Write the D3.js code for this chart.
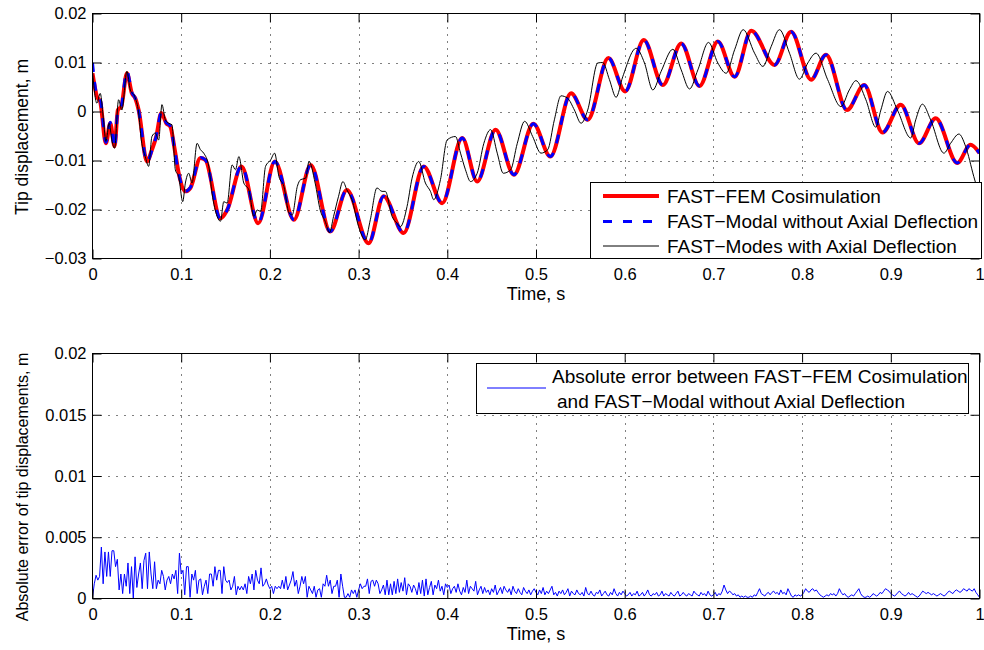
<!DOCTYPE html>
<html>
<head>
<meta charset="utf-8">
<script src="https://cdn.jsdelivr.net/npm/d3@7"></script>
<style>
  body { margin: 0; background: #fff; }
  svg text { font-family: "Liberation Sans", Arial, Helvetica, sans-serif; fill: #000; }
</style>
</head>
<body>
<svg id="fig" width="984" height="650"></svg>
<script>
// ---- Tip displacement time histories (time in s, displacement in m) ----
const femTime = [0, 0.0049, 0.0087, 0.0151, 0.0200, 0.0249, 0.0286, 0.0324, 0.0388, 0.0444,
  0.0482, 0.0520, 0.0614, 0.0670, 0.0719, 0.0776, 0.0832, 0.0878, 0.0927, 0.0972,
  0.1047, 0.1104, 0.1217, 0.1273, 0.1443, 0.1518, 0.1680, 0.1868, 0.2056, 0.2271,
  0.2460, 0.2680, 0.2868, 0.3113, 0.3282, 0.3508, 0.3734, 0.3942, 0.4168, 0.4337,
  0.4544, 0.4751, 0.4970, 0.5162, 0.5395, 0.5583, 0.5816, 0.6005, 0.6215, 0.6430,
  0.6637, 0.6843, 0.7050, 0.7239, 0.7427, 0.7689, 0.7876, 0.8101, 0.8270, 0.8506,
  0.8700, 0.8906, 0.9112, 0.9318, 0.9506, 0.9749, 0.9899, 1.0];
const femDisp = [0.0078, 0.0031, 0.0020, -0.0065, -0.0024, -0.0071, 0.0003, 0.0010, 0.0078, 0.0037,
  0.0027, 0.0003, -0.0102, -0.0078, -0.0051, -0.0003, -0.0024, -0.0031, -0.0078, -0.0126,
  -0.0163, -0.0156, -0.0095, -0.0099, -0.0218, -0.0201, -0.0112, -0.0228, -0.0102, -0.0221,
  -0.0109, -0.0245, -0.0160, -0.0269, -0.0173, -0.0248, -0.0112, -0.0187, -0.0054, -0.0143,
  -0.0037, -0.0129, -0.0025, -0.0092, 0.0037, -0.0017, 0.0109, 0.0041, 0.0146, 0.0054,
  0.0139, 0.0052, 0.0143, 0.0071, 0.0165, 0.0095, 0.0163, 0.0065, 0.0116, 0.0003,
  0.0054, -0.0043, 0.0014, -0.0065, -0.0014, -0.0105, -0.0068, -0.0085];

const modalTime = femTime.slice();
const modalDisp = [0.0099, 0.0033, 0.0025, -0.0063, -0.0022, -0.0074, 0.0002, 0.0011, 0.0082, 0.0039,
  0.0027, 0.0002, -0.0103, -0.0079, -0.0050, -0.0002, -0.0023, -0.0030, -0.0079, -0.0127,
  -0.0163, -0.0155, -0.0094, -0.0099, -0.0219, -0.0201, -0.0111, -0.0228, -0.0102, -0.0221,
  -0.0109, -0.0245, -0.0160, -0.0269, -0.0173, -0.0248, -0.0112, -0.0187, -0.0054, -0.0143,
  -0.0037, -0.0129, -0.0025, -0.0092, 0.0037, -0.0017, 0.0109, 0.0041, 0.0146, 0.0054,
  0.0139, 0.0052, 0.0143, 0.0071, 0.0165, 0.0095, 0.0163, 0.0065, 0.0116, 0.0003,
  0.0054, -0.0043, 0.0014, -0.0065, -0.0014, -0.0105, -0.0068, -0.0085];

const axialTime = [0, 0.0049, 0.0087, 0.0124, 0.0151, 0.0188, 0.0218, 0.0249, 0.0294, 0.0331,
  0.0388, 0.0426, 0.0475, 0.0520, 0.0550, 0.0595, 0.0633, 0.0670, 0.0708, 0.0746,
  0.0783, 0.0821, 0.0859, 0.0896, 0.0934, 0.0972, 0.1017, 0.1047, 0.1085, 0.1122,
  0.1179, 0.1217, 0.1254, 0.1311, 0.1348, 0.1405, 0.1443, 0.1480, 0.1518, 0.1574,
  0.1612, 0.1650, 0.1706, 0.1763, 0.1819, 0.1857, 0.1895, 0.1951, 0.2008, 0.2053,
  0.2102, 0.2158, 0.2215, 0.2252, 0.2309, 0.2347, 0.2403, 0.2441, 0.2510, 0.2567,
  0.2623, 0.2672, 0.2718, 0.2774, 0.2823, 0.2868, 0.2925, 0.3000, 0.3075, 0.3132,
  0.3207, 0.3264, 0.3301, 0.3377, 0.3433, 0.3471, 0.3546, 0.3603, 0.3678, 0.3753,
  0.3810, 0.3847, 0.3923, 0.3998, 0.4092, 0.4149, 0.4205, 0.4262, 0.4337, 0.4412,
  0.4488, 0.4563, 0.4631, 0.4714, 0.4789, 0.4872, 0.4962, 0.5056, 0.5132, 0.5207,
  0.5282, 0.5357, 0.5433, 0.5508, 0.5583, 0.5696, 0.5752, 0.5828, 0.5903, 0.5978,
  0.6129, 0.6223, 0.6317, 0.6411, 0.6543, 0.6637, 0.6731, 0.6825, 0.6945, 0.7050,
  0.7144, 0.7239, 0.7336, 0.7464, 0.7558, 0.7652, 0.7745, 0.7858, 0.7970, 0.8064,
  0.8157, 0.8288, 0.8438, 0.8532, 0.8607, 0.8719, 0.8831, 0.8888, 0.8963, 0.9075,
  0.9225, 0.9281, 0.9356, 0.9449, 0.9599, 0.9674, 0.9768, 0.9843, 0.9936, 1.0];
const axialDisp = [0.0082, 0.0017, 0.0037, -0.0017, -0.0061, -0.0024, -0.0058, -0.0075, 0.0024, 0.0003,
  0.0082, 0.0044, 0.0031, -0.0003, -0.0058, -0.0092, -0.0112, -0.0051, -0.0044, -0.0058,
  0.0014, -0.0017, -0.0024, -0.0027, -0.0119, -0.0133, -0.0184, -0.0146, -0.0126, -0.0146,
  -0.0065, -0.0078, -0.0085, -0.0112, -0.0167, -0.0214, -0.0224, -0.0184, -0.0187, -0.0109,
  -0.0119, -0.0092, -0.0146, -0.0160, -0.0214, -0.0201, -0.0204, -0.0112, -0.0099, -0.0085,
  -0.0133, -0.0153, -0.0207, -0.0211, -0.0153, -0.0139, -0.0136, -0.0102, -0.0146, -0.0201,
  -0.0224, -0.0247, -0.0214, -0.0173, -0.0143, -0.0160, -0.0180, -0.0235, -0.0262, -0.0221,
  -0.0156, -0.0163, -0.0163, -0.0214, -0.0228, -0.0235, -0.0194, -0.0136, -0.0102, -0.0146,
  -0.0163, -0.0180, -0.0139, -0.0058, -0.0051, -0.0085, -0.0119, -0.0143, -0.0126, -0.0065,
  -0.0037, -0.0085, -0.0126, -0.0119, -0.0065, -0.0020, -0.0051, -0.0085, -0.0078, -0.0017,
  0.0032, 0.0027, 0.0003, -0.0024, 0.0003, 0.0099, 0.0100, 0.0065, 0.0029, 0.0071,
  0.0129, 0.0099, 0.0044, 0.0082, 0.0127, 0.0085, 0.0046, 0.0085, 0.0141, 0.0099,
  0.0078, 0.0126, 0.0167, 0.0119, 0.0092, 0.0133, 0.0167, 0.0119, 0.0066, 0.0099,
  0.0119, 0.0065, 0.0010, 0.0044, 0.0063, 0.0024, -0.0032, 0.0003, 0.0041, 0.0003,
  -0.0054, -0.0017, 0.0015, -0.0017, -0.0085, -0.0065, -0.0046, -0.0071, -0.0133, -0.0173];

// ---- Absolute error between the two models, sampled every 2 ms (mm) ----
const errorStep = 0.002;
const errorMm = [
  0.1, 1.2, 1.9, 1.5, 1.8, 4.2, 1.2, 3.8, 1.8, 3.8, 1.8, 3.9, 3.9, 2.6, 3.2, 0.7, 2.0, 0.4, 2.0, 1.0, 2.9, 0.4, 2.6, 0.0, 3.4,
  0.9, 2.0, 2.9, 0.8, 3.1, 3.7, 0.8, 3.8, 2.0, 0.8, 3.0, 0.8, 1.5, 1.2, 2.3, 1.8, 0.7, 1.5, 1.8, 1.2, 2.0, 1.6, 2.3, 0.4, 3.7,
  2.0, 2.3, 0.3, 2.6, 2.6, 0.1, 2.0, 1.5, 2.3, 0.4, 1.5, 1.6, 0.3, 1.0, 1.5, 0.4, 2.0, 2.0, 1.0, 2.6, 1.5, 2.3, 2.3, 0.4, 2.6,
  1.5, 1.3, 1.5, 0.7, 1.0, 1.8, 0.3, 1.0, 0.7, 1.0, 0.7, 1.2, 0.4, 1.8, 1.2, 2.0, 0.7, 2.3, 1.5, 1.2, 2.5, 1.0, 1.2, 1.6, 1.1,
  0.8, 1.0, 0.4, 1.0, 0.8, 1.0, 0.8, 1.5, 0.8, 1.8, 0.7, 1.1, 1.5, 2.2, 1.0, 1.5, 0.4, 1.0, 1.8, 1.2, 1.8, 0.1, 1.0, 0.7, 0.4,
  1.0, 0.1, 0.7, 0.8, 0.1, 1.2, 1.0, 1.9, 1.0, 1.5, 0.4, 1.0, 1.0, 1.5, 0.1, 2.0, 1.0, 0.1, 0.1, 0.4, 0.1, 0.7, 0.4, 0.7, 0.1,
  0.7, 1.2, 0.8, 1.0, 1.0, 1.6, 0.4, 1.4, 1.5, 1.0, 1.5, 1.2, 0.4, 0.7, 1.1, 0.3, 1.5, 0.3, 1.2, 0.3, 1.4, 0.4, 1.6, 0.5, 1.3,
  0.6, 1.7, 0.3, 1.2, 1.0, 0.5, 1.1, 0.8, 0.3, 1.3, 0.4, 1.5, 0.2, 1.6, 0.3, 0.9, 1.4, 0.3, 1.1, 0.8, 1.5, 0.6, 1.0, 0.3, 1.2,
  0.9, 1.1, 0.4, 0.8, 1.0, 0.5, 1.2, 0.6, 0.3, 0.9, 0.5, 1.5, 0.4, 1.0, 0.8, 0.6, 1.4, 0.3, 0.7, 1.0, 0.4, 0.9, 0.5, 0.7, 0.3,
  0.8, 0.5, 1.1, 0.3, 0.6, 0.9, 0.4, 1.0, 0.7, 0.5, 0.8, 0.3, 1.0, 0.6, 0.4, 0.8, 0.5, 0.3, 0.9, 0.6, 0.4, 0.7, 0.3, 0.6, 0.8,
  0.5, 0.3, 0.7, 0.4, 0.9, 0.3, 0.6, 0.4, 0.7, 1.0, 0.3, 0.5, 0.2, 0.6, 0.4, 0.7, 0.3, 0.5, 0.8, 0.2, 0.6, 0.4, 0.3, 0.7, 0.4,
  0.3, 0.5, 0.2, 0.9, 0.4, 0.3, 0.6, 0.3, 0.2, 0.5, 0.4, 0.7, 0.2, 0.4, 0.6, 0.3, 0.2, 0.5, 0.3, 0.8, 0.4, 0.2, 0.5, 0.3, 0.6,
  0.4, 0.2, 0.3, 0.5, 0.2, 0.4, 0.3, 0.6, 0.2, 0.3, 0.5, 0.2, 0.4, 0.7, 0.3, 0.2, 0.4, 0.3, 0.5, 0.2, 0.3, 0.6, 0.2, 0.4, 0.3,
  0.2, 0.5, 0.3, 0.2, 0.4, 0.6, 0.2, 0.3, 0.5, 0.3, 0.2, 0.4, 0.3, 0.2, 0.6, 0.4, 0.3, 0.2, 0.5, 0.3, 0.4, 0.2, 0.6, 0.3, 0.2,
  0.3, 0.5, 0.2, 0.4, 0.3, 0.6, 1.1, 0.7, 0.4, 0.6, 0.5, 0.3, 0.4, 0.2, 0.3, 0.1, 0.2, 0.1, 0.2, 0.1, 0.1, 0.2, 0.1, 0.3, 0.2,
  0.5, 0.8, 0.4, 0.3, 0.2, 0.4, 0.5, 0.3, 0.5, 0.6, 0.4, 0.5, 0.3, 0.7, 0.4, 0.5, 0.3, 0.8, 0.5, 0.2, 0.1, 0.3, 0.2, 0.3, 0.2,
  0.3, 0.5, 0.8, 0.6, 0.5, 0.7, 0.8, 0.6, 0.7, 0.5, 0.3, 0.2, 0.1, 0.2, 0.3, 0.2, 0.4, 0.3, 0.4, 0.2, 0.4, 0.8, 0.5, 0.3, 0.4,
  0.2, 0.1, 0.2, 0.3, 0.2, 0.4, 0.6, 0.8, 0.4, 0.2, 0.1, 0.1, 0.2, 0.1, 0.2, 0.4, 0.3, 0.2, 0.3, 0.5, 0.4, 0.6, 0.8, 0.7, 0.6,
  0.4, 0.3, 0.2, 0.3, 0.5, 0.6, 0.4, 0.3, 0.2, 0.3, 0.5, 0.3, 0.4, 0.3, 0.2, 0.1, 0.2, 0.4, 0.6, 0.5, 0.4, 0.5, 0.4, 0.3, 0.4,
  0.3, 0.2, 0.3, 0.4, 0.3, 0.2, 0.3, 0.5, 0.6, 0.5, 0.4, 0.6, 0.7, 0.6, 0.5, 0.6, 0.8, 0.7, 0.6, 0.8, 0.7, 0.6, 0.8, 0.5, 0.3,
  0.1];

// ---- Axis ticks and text ----
const timeTicks = [0, 0.1, 0.2, 0.3, 0.4, 0.5, 0.6, 0.7, 0.8, 0.9, 1];
const dispTicks = [-0.03, -0.02, -0.01, 0, 0.01, 0.02];
const errorTicks = [0, 0.005, 0.01, 0.015, 0.02];
const timeLabel = "Time, s";
const dispLabel = "Tip displacement, m";
const errorLabel = "Absolute error of tip displacements, m";
const dispLegend = ["FAST\u2212FEM Cosimulation", "FAST\u2212Modal without Axial Deflection", "FAST\u2212Modes with Axial Deflection"];
const errorLegend = ["Absolute error between FAST\u2212FEM Cosimulation", "and FAST\u2212Modal without Axial Deflection"];

// ---- Drawing ----
const svg = d3.select("#fig");
const fmt = d => String(+d.toFixed(4)).replace("-", "\u2212");
const x = d3.scaleLinear().domain([0, 1]).range([92.5, 979.5]);

function makePanel(id, top, bottom, yDomain, yTicks, yLabel, yLabelCenter, yLabelSize) {
  const y = d3.scaleLinear().domain(yDomain).range([bottom, top]);
  const g = svg.append("g").attr("id", id);

  g.append("clipPath").attr("id", id + "-clip")
    .append("rect").attr("x", x(0)).attr("y", top)
    .attr("width", x(1) - x(0)).attr("height", bottom - top);

  // dotted grid
  const grid = g.append("g").attr("stroke", "#000").attr("stroke-width", 1);
  grid.selectAll("line.v").data(timeTicks.slice(1, -1)).join("line").attr("class", "v")
    .attr("x1", d => Math.round(x(d)) + 0.5).attr("x2", d => Math.round(x(d)) + 0.5)
    .attr("y1", top).attr("y2", bottom).attr("stroke-dasharray", "1,6");
  grid.selectAll("line.h").data(yTicks.slice(1, -1)).join("line").attr("class", "h")
    .attr("y1", d => Math.round(y(d)) + 0.5).attr("y2", d => Math.round(y(d)) + 0.5)
    .attr("x1", x(0)).attr("x2", x(1)).attr("stroke-dasharray", "1,7");

  const plot = g.append("g").attr("clip-path", `url(#${id}-clip)`);

  // axes with inward ticks on all four sides
  const styleAxis = sel => {
    sel.select(".domain").remove();
    sel.selectAll(".tick line").attr("stroke", "#000");
    sel.selectAll("text").attr("font-family", null).attr("font-size", "16.5px").attr("fill", "#000");
  };
  g.append("g").attr("transform", `translate(0,${bottom})`)
    .call(d3.axisBottom(x).tickValues(timeTicks).tickFormat(fmt).tickSizeInner(-9).tickSizeOuter(0).tickPadding(10))
    .call(styleAxis);
  g.append("g").attr("transform", `translate(0,${top})`)
    .call(d3.axisTop(x).tickValues(timeTicks).tickFormat("").tickSizeInner(-9).tickSizeOuter(0))
    .call(styleAxis);
  g.append("g").attr("transform", `translate(${x(0)},0)`)
    .call(d3.axisLeft(y).tickValues(yTicks).tickFormat(fmt).tickSizeInner(-9).tickSizeOuter(0).tickPadding(6))
    .call(styleAxis);
  g.append("g").attr("transform", `translate(${x(1)},0)`)
    .call(d3.axisRight(y).tickValues(yTicks).tickFormat("").tickSizeInner(-9).tickSizeOuter(0))
    .call(styleAxis);

  g.append("rect").attr("x", x(0)).attr("y", top)
    .attr("width", x(1) - x(0)).attr("height", bottom - top)
    .attr("fill", "none").attr("stroke", "#000").attr("stroke-width", 1);

  g.append("text").attr("x", (x(0) + x(1)) / 2).attr("y", bottom + 41.5)
    .attr("text-anchor", "middle").attr("font-size", "18px").text(timeLabel);
  g.append("text").attr("transform", `translate(28,${yLabelCenter}) rotate(-90)`)
    .attr("text-anchor", "middle").attr("font-size", yLabelSize).text(yLabel);

  return { g, plot, y };
}

// upper panel: tip displacement
const P1 = makePanel("disp", 13.5, 258.5, [-0.03, 0.02], dispTicks, dispLabel, 137, "17.5px");
const line1 = (ts, vs) => d3.line().curve(d3.curveMonotoneX)
  .x(i => x(ts[i])).y(i => P1.y(vs[i]))(d3.range(ts.length));

P1.plot.append("path").attr("d", line1(femTime, femDisp))
  .attr("fill", "none").attr("stroke", "#ff0000").attr("stroke-width", 4);
P1.plot.append("path").attr("d", line1(modalTime, modalDisp))
  .attr("fill", "none").attr("stroke", "#0000ff").attr("stroke-width", 3).attr("stroke-dasharray", "9,10");
P1.plot.append("path").attr("d", line1(axialTime, axialDisp))
  .attr("fill", "none").attr("stroke", "#000").attr("stroke-width", 1);

// upper legend
const L1 = P1.g.append("g");
L1.append("rect").attr("x", 590.5).attr("y", 182.5).attr("width", 391).attr("height", 76)
  .attr("fill", "#fff").attr("stroke", "#000").attr("stroke-width", 1);
const legRows = [196, 221.5, 246];
const legStyles = [
  { stroke: "#ff0000", w: 4, dash: null },
  { stroke: "#0000ff", w: 3, dash: "9,11" },
  { stroke: "#000", w: 1, dash: null }
];
dispLegend.forEach((label, i) => {
  L1.append("line").attr("x1", 603).attr("x2", 659).attr("y1", legRows[i]).attr("y2", legRows[i])
    .attr("stroke", legStyles[i].stroke).attr("stroke-width", legStyles[i].w)
    .attr("stroke-dasharray", legStyles[i].dash);
  L1.append("text").attr("x", 667).attr("y", legRows[i]).attr("dy", "0.36em")
    .attr("font-size", "19px").text(label);
});

// lower panel: absolute error
const P2 = makePanel("err", 353.5, 598.5, [0, 0.02], errorTicks, errorLabel, 487, "16px");
P2.plot.append("path")
  .attr("d", d3.line().x((d, i) => x(i * errorStep)).y(d => P2.y(d / 1000))(errorMm))
  .attr("fill", "none").attr("stroke", "#0000ff").attr("stroke-width", 1);

const L2 = P2.g.append("g");
L2.append("rect").attr("x", 476.5).attr("y", 363.5).attr("width", 492).attr("height", 50)
  .attr("fill", "#fff").attr("stroke", "#000").attr("stroke-width", 1);
L2.append("line").attr("x1", 487).attr("x2", 546).attr("y1", 388).attr("y2", 388)
  .attr("stroke", "#0000ff").attr("stroke-width", 1);
L2.append("text").attr("x", 552).attr("y", 376).attr("dy", "0.36em").attr("font-size", "19px").text(errorLegend[0]);
L2.append("text").attr("x", 557).attr("y", 401).attr("dy", "0.36em").attr("font-size", "19px").text(errorLegend[1]);
</script>
</body>
</html>
